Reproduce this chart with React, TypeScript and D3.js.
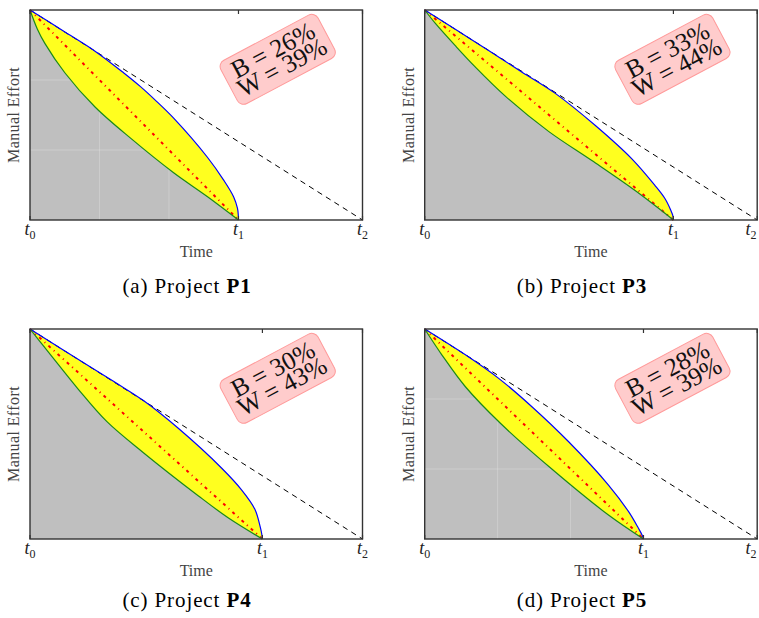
import React from "react";
import * as d3 from "d3";

// ---- data ----
const projects = ["P1", "P3", "P4", "P5"];
const letters = ["a", "b", "c", "d"];
// position of t1 on a time axis where t0 = 0 and t2 = 1
const t1Values = [0.627, 0.748, 0.699, 0.658];
const bValues = [26, 33, 30, 28];
const wValues = [39, 44, 43, 39];
const tickLabels = ["0", "1", "2"];

// curves: [fraction of t1, fraction of effort consumed (0 top, 1 bottom)]
const upperP1: [number, number][] = [[0, 0], [0.16, 0.1], [0.312, 0.196], [0.45, 0.3], [0.53, 0.365], [0.607, 0.435], [0.689, 0.515], [0.85, 0.7], [0.929, 0.81], [0.977, 0.89], [0.995, 0.944], [0.999, 0.975], [1, 1]];
const lowerP1: [number, number][] = [[0, 0], [0.035, 0.09], [0.072, 0.16], [0.168, 0.3], [0.312, 0.462], [0.488, 0.615], [0.689, 0.775], [0.85, 0.888], [1, 1]];
const upperP3: [number, number][] = [[0, 0], [0.123, 0.092], [0.257, 0.193], [0.39, 0.295], [0.525, 0.397], [0.685, 0.549], [0.833, 0.709], [0.926, 0.836], [0.967, 0.9], [0.99, 0.955], [0.998, 0.98], [1, 1]];
const lowerP3: [number, number][] = [[0, 0], [0.043, 0.064], [0.123, 0.17], [0.203, 0.271], [0.324, 0.41], [0.498, 0.578], [0.672, 0.717], [0.846, 0.86], [1, 1]];
const upperP4: [number, number][] = [[0, 0], [0.143, 0.1], [0.366, 0.254], [0.488, 0.341], [0.638, 0.473], [0.825, 0.663], [0.911, 0.767], [0.968, 0.859], [0.99, 0.94], [0.997, 0.975], [1, 1]];
const lowerP4: [number, number][] = [[0, 0], [0.043, 0.06], [0.093, 0.129], [0.208, 0.287], [0.33, 0.44], [0.488, 0.589], [0.725, 0.795], [0.854, 0.9], [1, 1]];
const upperP5: [number, number][] = [[0, 0], [0.186, 0.123], [0.338, 0.235], [0.49, 0.37], [0.658, 0.537], [0.84, 0.743], [0.932, 0.87], [0.977, 0.949], [0.994, 0.982], [1, 1]];
const lowerP5: [number, number][] = [[0, 0], [0.079, 0.124], [0.186, 0.275], [0.346, 0.449], [0.581, 0.667], [0.84, 0.886], [1, 1]];

const uppers = [upperP1, upperP3, upperP4, upperP5];
const lowers = [lowerP1, lowerP3, lowerP4, lowerP5];
const gridFractions = [1 / 3, 2 / 3];
const showGrid = [true, false, false, true];

// ---- layout ----
const W = 759;
const H = 618;
const plotW = 332.5;
const plotH = 210;
const colX = [30, 424.7];
const rowY = [10, 329];
const captionX = [187, 582];
const captionBase = [293, 607];

const serif = "'Liberation Serif', 'Times New Roman', serif";

function Panel({ idx }: { idx: number }) {
  const col = idx % 2;
  const row = Math.floor(idx / 2);
  const x0 = colX[col];
  const y0 = rowY[row];
  const t1 = t1Values[idx];
  const x = d3.scaleLinear().domain([0, 1]).range([x0, x0 + plotW]);
  const y = d3.scaleLinear().domain([0, 1]).range([y0 + plotH, y0]);

  const toPt = (d: [number, number]): [number, number] => [d[0] * t1, 1 - d[1]];
  const up = uppers[idx].map(toPt);
  const lo = lowers[idx].map(toPt);

  const curve = d3.curveCatmullRom.alpha(0.5);
  const area = d3
    .area<[number, number]>()
    .x((d) => x(d[0]))
    .y0(y(0))
    .y1((d) => y(d[1]))
    .curve(curve);
  const line = d3
    .line<[number, number]>()
    .x((d) => x(d[0]))
    .y((d) => y(d[1]))
    .curve(curve);
  const straight = d3
    .line<[number, number]>()
    .x((d) => x(d[0]))
    .y((d) => y(d[1]));

  const ticks = [0, t1, 1];
  const clipId = `gray-clip-${idx}`;
  const grayPath = area(lo) || "";

  const boxCx = x0 + 0.745 * plotW;
  const boxCy = y0 + 0.235 * plotH;

  return (
    <g>
      <defs>
        <clipPath id={clipId}>
          <path d={grayPath} />
        </clipPath>
      </defs>
      {/* yellow region (under upper curve) then gray under lower curve */}
      <path d={area(up) || ""} fill="#ffff1f" stroke="none" />
      <path d={grayPath} fill="#bfbfbf" stroke="none" />
      {showGrid[idx] && (
        <g clipPath={`url(#${clipId})`} stroke="#ffffff" strokeOpacity={0.28} strokeWidth={0.8}>
          {gridFractions.map((g, k) => (
            <line key={`v${k}`} x1={x(g * t1)} x2={x(g * t1)} y1={y0} y2={y0 + plotH} />
          ))}
          {gridFractions.map((g, k) => (
            <line key={`h${k}`} x1={x0} x2={x(t1)} y1={y(1 - g)} y2={y(1 - g)} />
          ))}
        </g>
      )}
      {/* ideal (dashed) */}
      <path
        d={straight([[0, 1], [1, 0]]) || ""}
        fill="none"
        stroke="#000"
        strokeWidth={1}
        strokeDasharray="5.5,4.5"
      />
      {/* red dash-dot */}
      <path
        d={straight([[0, 1], [t1, 0]]) || ""}
        fill="none"
        stroke="#ff0000"
        strokeWidth={2}
        strokeDasharray="3,4.2,1,4.2"
      />
      <path d={line(up) || ""} fill="none" stroke="#0000ff" strokeWidth={1.2} />
      <path d={line(lo) || ""} fill="none" stroke="#1a8a1a" strokeWidth={1.2} />
      {/* frame */}
      <rect x={x0} y={y0} width={plotW} height={plotH} fill="none" stroke="#333" strokeWidth={1.4} />
      {ticks.map((t, k) => (
        <g key={k}>
          <line x1={x(t)} x2={x(t)} y1={y0} y2={y0 + 4} stroke="#333" strokeWidth={1.2} />
          <line x1={x(t)} x2={x(t)} y1={y0 + plotH} y2={y0 + plotH - 4} stroke="#333" strokeWidth={1.2} />
          <text
            x={Math.min(x(t), W - 8)}
            y={y0 + plotH + 15}
            textAnchor="middle"
            fontFamily={serif}
            fontStyle="italic"
            fontSize={18}
            fill="#222"
          >
            t
            <tspan fontStyle="normal" fontSize={12} dy={4}>
              {tickLabels[k]}
            </tspan>
          </text>
        </g>
      ))}
      <text
        x={x0 + plotW / 2}
        y={y0 + plotH + 37}
        textAnchor="middle"
        fontFamily={serif}
        fontSize={16}
        fill="#444"
      >
        Time
      </text>
      <text
        transform={`translate(${x0 - 11},${y0 + plotH / 2}) rotate(-90)`}
        textAnchor="middle"
        fontFamily={serif}
        fontSize={16}
        fill="#444"
        letterSpacing={0.4}
      >
        Manual Effort
      </text>
      {/* annotation box */}
      <g transform={`translate(${boxCx},${boxCy}) rotate(-28)`}>
        <rect x={-55} y={-24.5} width={110} height={49} rx={7} fill="#ffcccc" stroke="#ff9a9a" strokeWidth={1} />
        <text x={0} y={-2} textAnchor="middle" fontFamily={serif} fontSize={25.5} fill="#111">
          {`B = ${bValues[idx]}%`}
        </text>
        <text x={0} y={17.5} textAnchor="middle" fontFamily={serif} fontSize={25.5} fill="#111">
          {`W = ${wValues[idx]}%`}
        </text>
      </g>
      {/* caption */}
      <text
        x={captionX[col]}
        y={captionBase[row]}
        textAnchor="middle"
        fontFamily={serif}
        fontSize={21}
        fill="#000"
        letterSpacing={0.9}
      >
        {`(${letters[idx]}) Project `}
        <tspan fontWeight="bold">{projects[idx]}</tspan>
      </text>
    </g>
  );
}

export default function App() {
  return (
    <svg
      width={W}
      height={H}
      viewBox={`0 0 ${W} ${H}`}
      style={{ position: "absolute", left: 0, top: 0, display: "block", background: "#fff" }}
    >
      <rect x={0} y={0} width={W} height={H} fill="#fff" />
      {projects.map((_, i) => (
        <Panel key={i} idx={i} />
      ))}
    </svg>
  );
}
